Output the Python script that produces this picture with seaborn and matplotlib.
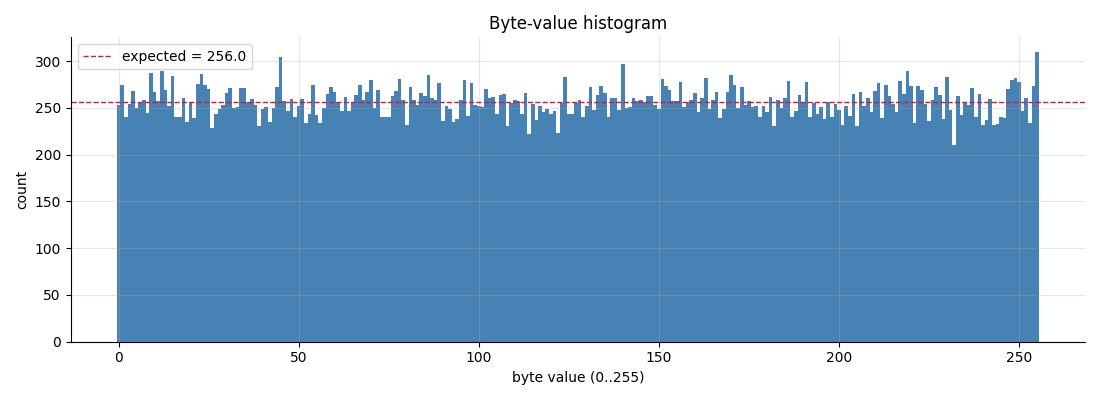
import numpy as np
import pandas as pd
import matplotlib
matplotlib.use("Agg")
import matplotlib.pyplot as plt
import seaborn as sns

byte_values = list(range(256))
counts = [
    253, 275, 240, 254, 268, 250, 255, 259, 245, 287, 267, 257, 289, 269, 252, 284, 240, 240, 261, 235, 256, 239, 276,
    286, 275, 270, 229, 244, 249, 253, 266, 271, 250, 251, 271, 271, 256, 260, 253, 231, 249, 251, 235, 250, 272, 304, 257,
    247, 260, 240, 252, 260, 234, 243, 275, 242, 234, 250, 265, 272, 267, 256, 247, 262, 247, 256, 264, 275, 259, 267,
    280, 250, 269, 240, 240, 240, 263, 268, 281, 259, 232, 272, 258, 253, 266, 263, 285, 261, 259, 277, 236, 252, 249, 235,
    238, 259, 280, 241, 277, 253, 252, 251, 270, 261, 262, 244, 264, 265, 231, 255, 258, 257, 243, 266, 222, 254, 237, 252,
    246, 249, 243, 247, 223, 255, 283, 243, 244, 255, 258, 240, 252, 272, 248, 264, 273, 266, 240, 261, 261, 248, 297,
    250, 251, 261, 257, 258, 256, 263, 263, 253, 249, 281, 273, 269, 257, 257, 278, 251, 256, 259, 266, 246, 261, 282, 249,
    259, 267, 239, 249, 267, 285, 275, 250, 272, 253, 257, 251, 252, 240, 252, 246, 262, 231, 259, 250, 261, 279, 240,
    247, 264, 256, 278, 240, 255, 244, 251, 238, 256, 240, 254, 248, 232, 252, 241, 265, 231, 267, 252, 261, 246, 268, 277,
    239, 275, 263, 254, 246, 279, 265, 289, 273, 234, 273, 269, 254, 236, 259, 272, 264, 238, 283, 248, 210, 263, 242, 256,
    253, 271, 240, 265, 232, 237, 260, 232, 233, 240, 239, 270, 280, 282, 278, 247, 261, 234, 273, 310,
]
expected = 256.0
x_ticks = [0, 50, 100, 150, 200, 250]
y_ticks = [0, 50, 100, 150, 200, 250, 300]

df = pd.DataFrame({"byte": byte_values, "count": counts})

fig, ax = plt.subplots(figsize=(11, 4), dpi=100)
sns.histplot(data=df, x="byte", weights="count", discrete=True,
             color="steelblue", alpha=1.0, linewidth=0, ax=ax)
ax.axhline(expected, color="crimson", linestyle="--", linewidth=1,
           label=f"expected = {expected}")
ax.set_xticks(x_ticks)
ax.set_yticks(y_ticks)
ax.grid(True, alpha=0.3)
ax.set_title("Byte-value histogram")
ax.set_xlabel("byte value (0..255)")
ax.set_ylabel("count")
ax.legend(loc="upper left")
sns.despine(ax=ax)
fig.tight_layout()
fig.savefig("out.png", dpi=100)
